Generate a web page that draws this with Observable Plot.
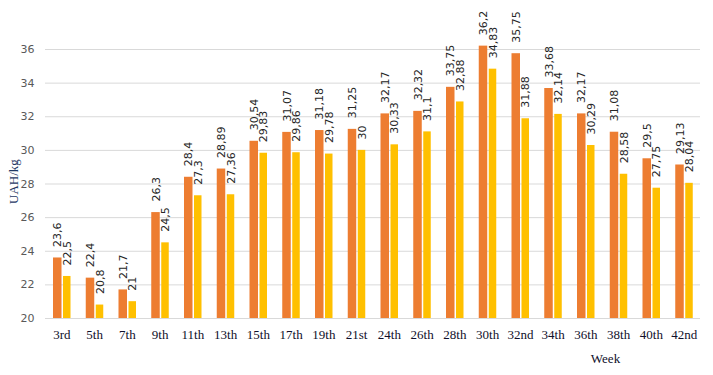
<!DOCTYPE html>
<html>
<head>
<meta charset="utf-8">
<script src="https://cdn.jsdelivr.net/npm/d3@7"></script>
<script src="https://cdn.jsdelivr.net/npm/@observablehq/plot@0.6"></script>
<style>
  html, body { margin: 0; padding: 0; background: #fff; }
  #chart { width: 713px; height: 375px; }
</style>
</head>
<body>
<div id="chart"></div>
<script>
const weeks = ["3rd","5th","7th","9th","11th","13th","15th","17th","19th","21st","24th","26th","28th","30th","32nd","34th","36th","38th","40th","42nd"];
const seriesA = [23.6,22.4,21.7,26.3,28.4,28.89,30.54,31.07,31.18,31.25,32.17,32.32,33.75,36.2,35.75,33.68,32.17,31.08,29.5,29.13];
const seriesB = [22.5,20.8,21,24.5,27.3,27.36,29.83,29.86,29.78,30,30.33,31.1,32.88,34.83,31.88,32.14,30.29,28.58,27.75,28.04];
const yTicks = [20,22,24,26,28,30,32,34,36];

const dataA = weeks.map((w, i) => ({week: w, value: seriesA[i]}));
const dataB = weeks.map((w, i) => ({week: w, value: seriesB[i]}));
const fmt = v => String(v).replace(".", ",");

const W = 713, H = 375;
const bandW = (700 - 45) / weeks.length;

const labelOpts = (dx) => ({
  x: "week", y: "value", text: d => fmt(d.value),
  rotate: -90, textAnchor: "start", dx: dx, dy: -11,
  fontFamily: "DejaVu Sans", fontSize: 11, fill: "#262626"
});

const chart = Plot.plot({
  width: W, height: H,
  marginLeft: 45, marginRight: 13, marginTop: 49, marginBottom: 57,
  x: {domain: weeks, padding: 0, round: false},
  y: {domain: [20, 36]},
  style: {background: "#fff", overflow: "visible"},
  marks: [
    Plot.gridY(yTicks, {stroke: "#d9d9d9", strokeOpacity: 1, strokeWidth: 1}),
    Plot.axisY(yTicks, {tickSize: 0, tickPadding: 11, fontFamily: "DejaVu Sans", fontSize: 11, color: "#595959", label: null}),
    Plot.axisX({tickSize: 0, tickPadding: 11, fontFamily: "Liberation Serif", fontSize: 13, color: "#0f0f2a", label: null}),
    Plot.barY(dataA, {x: "week", y1: 20, y2: "value", fill: "#ED7D31", insetLeft: 8, insetRight: bandW - 16.5}),
    Plot.barY(dataB, {x: "week", y1: 20, y2: "value", fill: "#FFC000", insetLeft: 18, insetRight: bandW - 25.5}),
    Plot.text(dataA, labelOpts(12.25 - bandW / 2)),
    Plot.text(dataB, labelOpts(21.75 - bandW / 2)),
    Plot.text(["UAH/kg"], {frameAnchor: "left", text: d => d, rotate: -90, dx: -32, dy: 20,
      fontFamily: "Liberation Serif", fontSize: 13, fill: "#1f3864"}),
    Plot.text(["Week"], {frameAnchor: "bottom", text: d => d, dx: 605 - (45 + 700) / 2, dy: 44,
      fontFamily: "Liberation Serif", fontSize: 13, fill: "#0f0f2a"})
  ]
});
document.getElementById("chart").appendChild(chart);
</script>
</body>
</html>
